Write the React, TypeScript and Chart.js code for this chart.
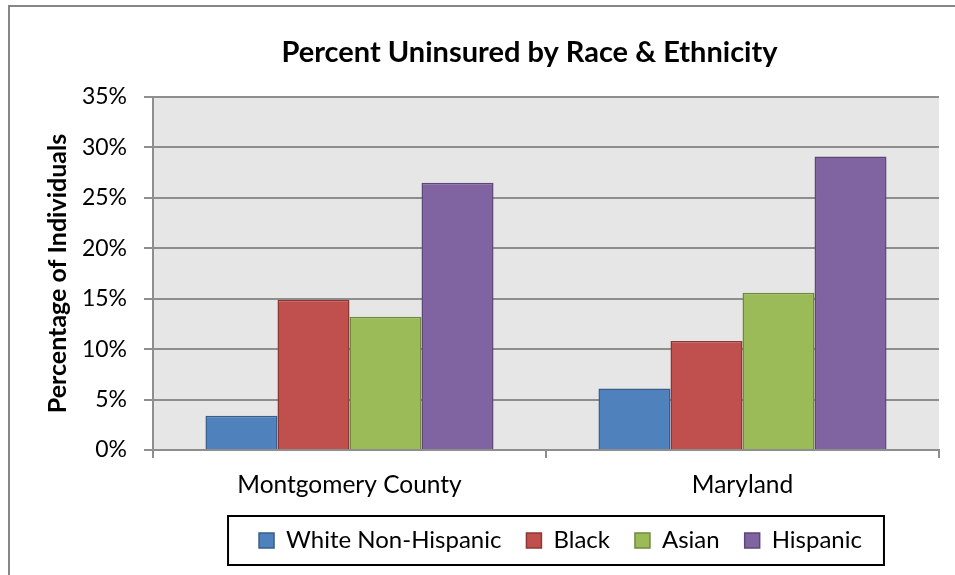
import React, { useEffect, useRef } from "react";
import { Chart, registerables } from "chart.js";

Chart.register(...registerables);

const categories = ["Montgomery County", "Maryland"];
const seriesNames = ["White Non-Hispanic", "Black", "Asian", "Hispanic"];
const whiteNonHispanic = [3.4, 6.1];
const black = [14.9, 10.8];
const asian = [13.2, 15.6];
const hispanic = [26.5, 29.1];
const yTickValues = [0, 5, 10, 15, 20, 25, 30, 35];
const fillColors = ["#4F81BD", "#C0504D", "#9BBB59", "#8064A2"];
const edgeColors = ["#385D8A", "#8C3836", "#71893F", "#5C4776"];

const FONT = "Lato";
const GRID = "#8e8e8e";
const LEGEND_PAD = 25;

const decorPlugin = {
  id: "decor",
  beforeDraw(chart: any) {
    const { ctx, chartArea } = chart;
    ctx.save();
    ctx.fillStyle = "#ffffff";
    ctx.fillRect(0, 0, chart.width, chart.height);
    ctx.fillStyle = "#e6e6e6";
    ctx.fillRect(chartArea.left, chartArea.top, chartArea.right - chartArea.left, chartArea.bottom - chartArea.top);
    ctx.strokeStyle = "#868686";
    ctx.lineWidth = 2;
    ctx.strokeRect(9, 6, chart.width + 20, chart.height + 20);
    ctx.restore();
  },
  afterLayout(chart: any) {
    if (chart.titleBlock) {
      chart.titleBlock.left += 60;
      chart.titleBlock.right += 60;
    }
    if (chart.legend) {
      chart.legend.left += 14.5;
      chart.legend.right += 14.5;
    }
  },
  afterDraw(chart: any) {
    const lg = chart.legend;
    if (!lg || !lg.legendHitBoxes || !lg.legendHitBoxes.length) return;
    const hb = lg.legendHitBoxes;
    const first = hb[0];
    const last = hb[hb.length - 1];
    const left = first.left - 31;
    const right = last.left + last.width + 22;
    const cy = first.top + first.height / 2;
    const { ctx } = chart;
    ctx.save();
    ctx.strokeStyle = "#000000";
    ctx.lineWidth = 2;
    ctx.strokeRect(left, cy - 24.5, right - left, 49);
    ctx.restore();
  },
};

export default function App() {
  const canvasRef = useRef<HTMLCanvasElement | null>(null);

  useEffect(() => {
    if (!canvasRef.current) return;
    Chart.defaults.font.family = FONT;
    const seriesValues = [whiteNonHispanic, black, asian, hispanic];
    const chart = new Chart(canvasRef.current, {
      type: "bar",
      data: {
        labels: categories,
        datasets: seriesNames.map((name, i) => ({
          label: name,
          data: seriesValues[i],
          backgroundColor: fillColors[i],
          borderColor: edgeColors[i],
          borderWidth: 1.5,
          categoryPercentage: 0.733,
          barPercentage: 1,
        })),
      },
      options: {
        responsive: false,
        animation: false,
        devicePixelRatio: 1,
        layout: { padding: { top: 0, left: 0, right: 16, bottom: 12.5 } },
        plugins: {
          tooltip: { enabled: false },
          title: {
            display: true,
            text: "Percent Uninsured by Race & Ethnicity",
            color: "#000",
            font: { family: FONT, size: 29, weight: "bold", lineHeight: 1.2 },
            padding: { top: 35.6, bottom: 26.6 },
          },
          legend: {
            position: "bottom",
            fullSize: false,
            labels: {
              color: "#000",
              font: { family: FONT, size: 24 },
              boxWidth: 15,
              boxHeight: 15,
              padding: LEGEND_PAD,
            },
          },
        },
        scales: {
          x: {
            offset: true,
            grid: {
              offset: true,
              drawOnChartArea: false,
              drawTicks: true,
              tickLength: 8,
              color: GRID,
              lineWidth: 2,
            },
            border: { display: true, color: GRID, width: 2 },
            ticks: {
              color: "#000",
              font: { family: FONT, size: 24.5 },
              padding: 12.7,
              maxRotation: 0,
              autoSkip: false,
            },
            afterFit: (s: any) => {
              s.height = 53.5;
            },
          },
          y: {
            min: 0,
            max: 35,
            afterBuildTicks: (s: any) => {
              s.ticks = yTickValues.map((v) => ({ value: v }));
            },
            ticks: {
              color: "#000",
              font: { family: FONT, size: 23 },
              padding: 17,
              callback: (v: any) => v + "%",
            },
            grid: { color: GRID, lineWidth: 2, tickLength: 9, drawTicks: true },
            border: { display: true, color: GRID, width: 2 },
            title: {
              display: true,
              text: "Percentage of Individuals",
              color: "#000",
              font: { family: FONT, size: 25, weight: "bold", lineHeight: 1.2 },
              padding: { top: 43, bottom: 0 },
            },
            afterFit: (s: any) => {
              s.width = 153;
            },
          },
        },
      },
      plugins: [decorPlugin],
    });
    return () => chart.destroy();
  }, []);

  return (
    <div style={{ position: "fixed", left: 0, top: 0, width: 955, height: 575, background: "#fff" }}>
      <canvas ref={canvasRef} width={955} height={575} style={{ display: "block", width: 955, height: 575 }} />
    </div>
  );
}
